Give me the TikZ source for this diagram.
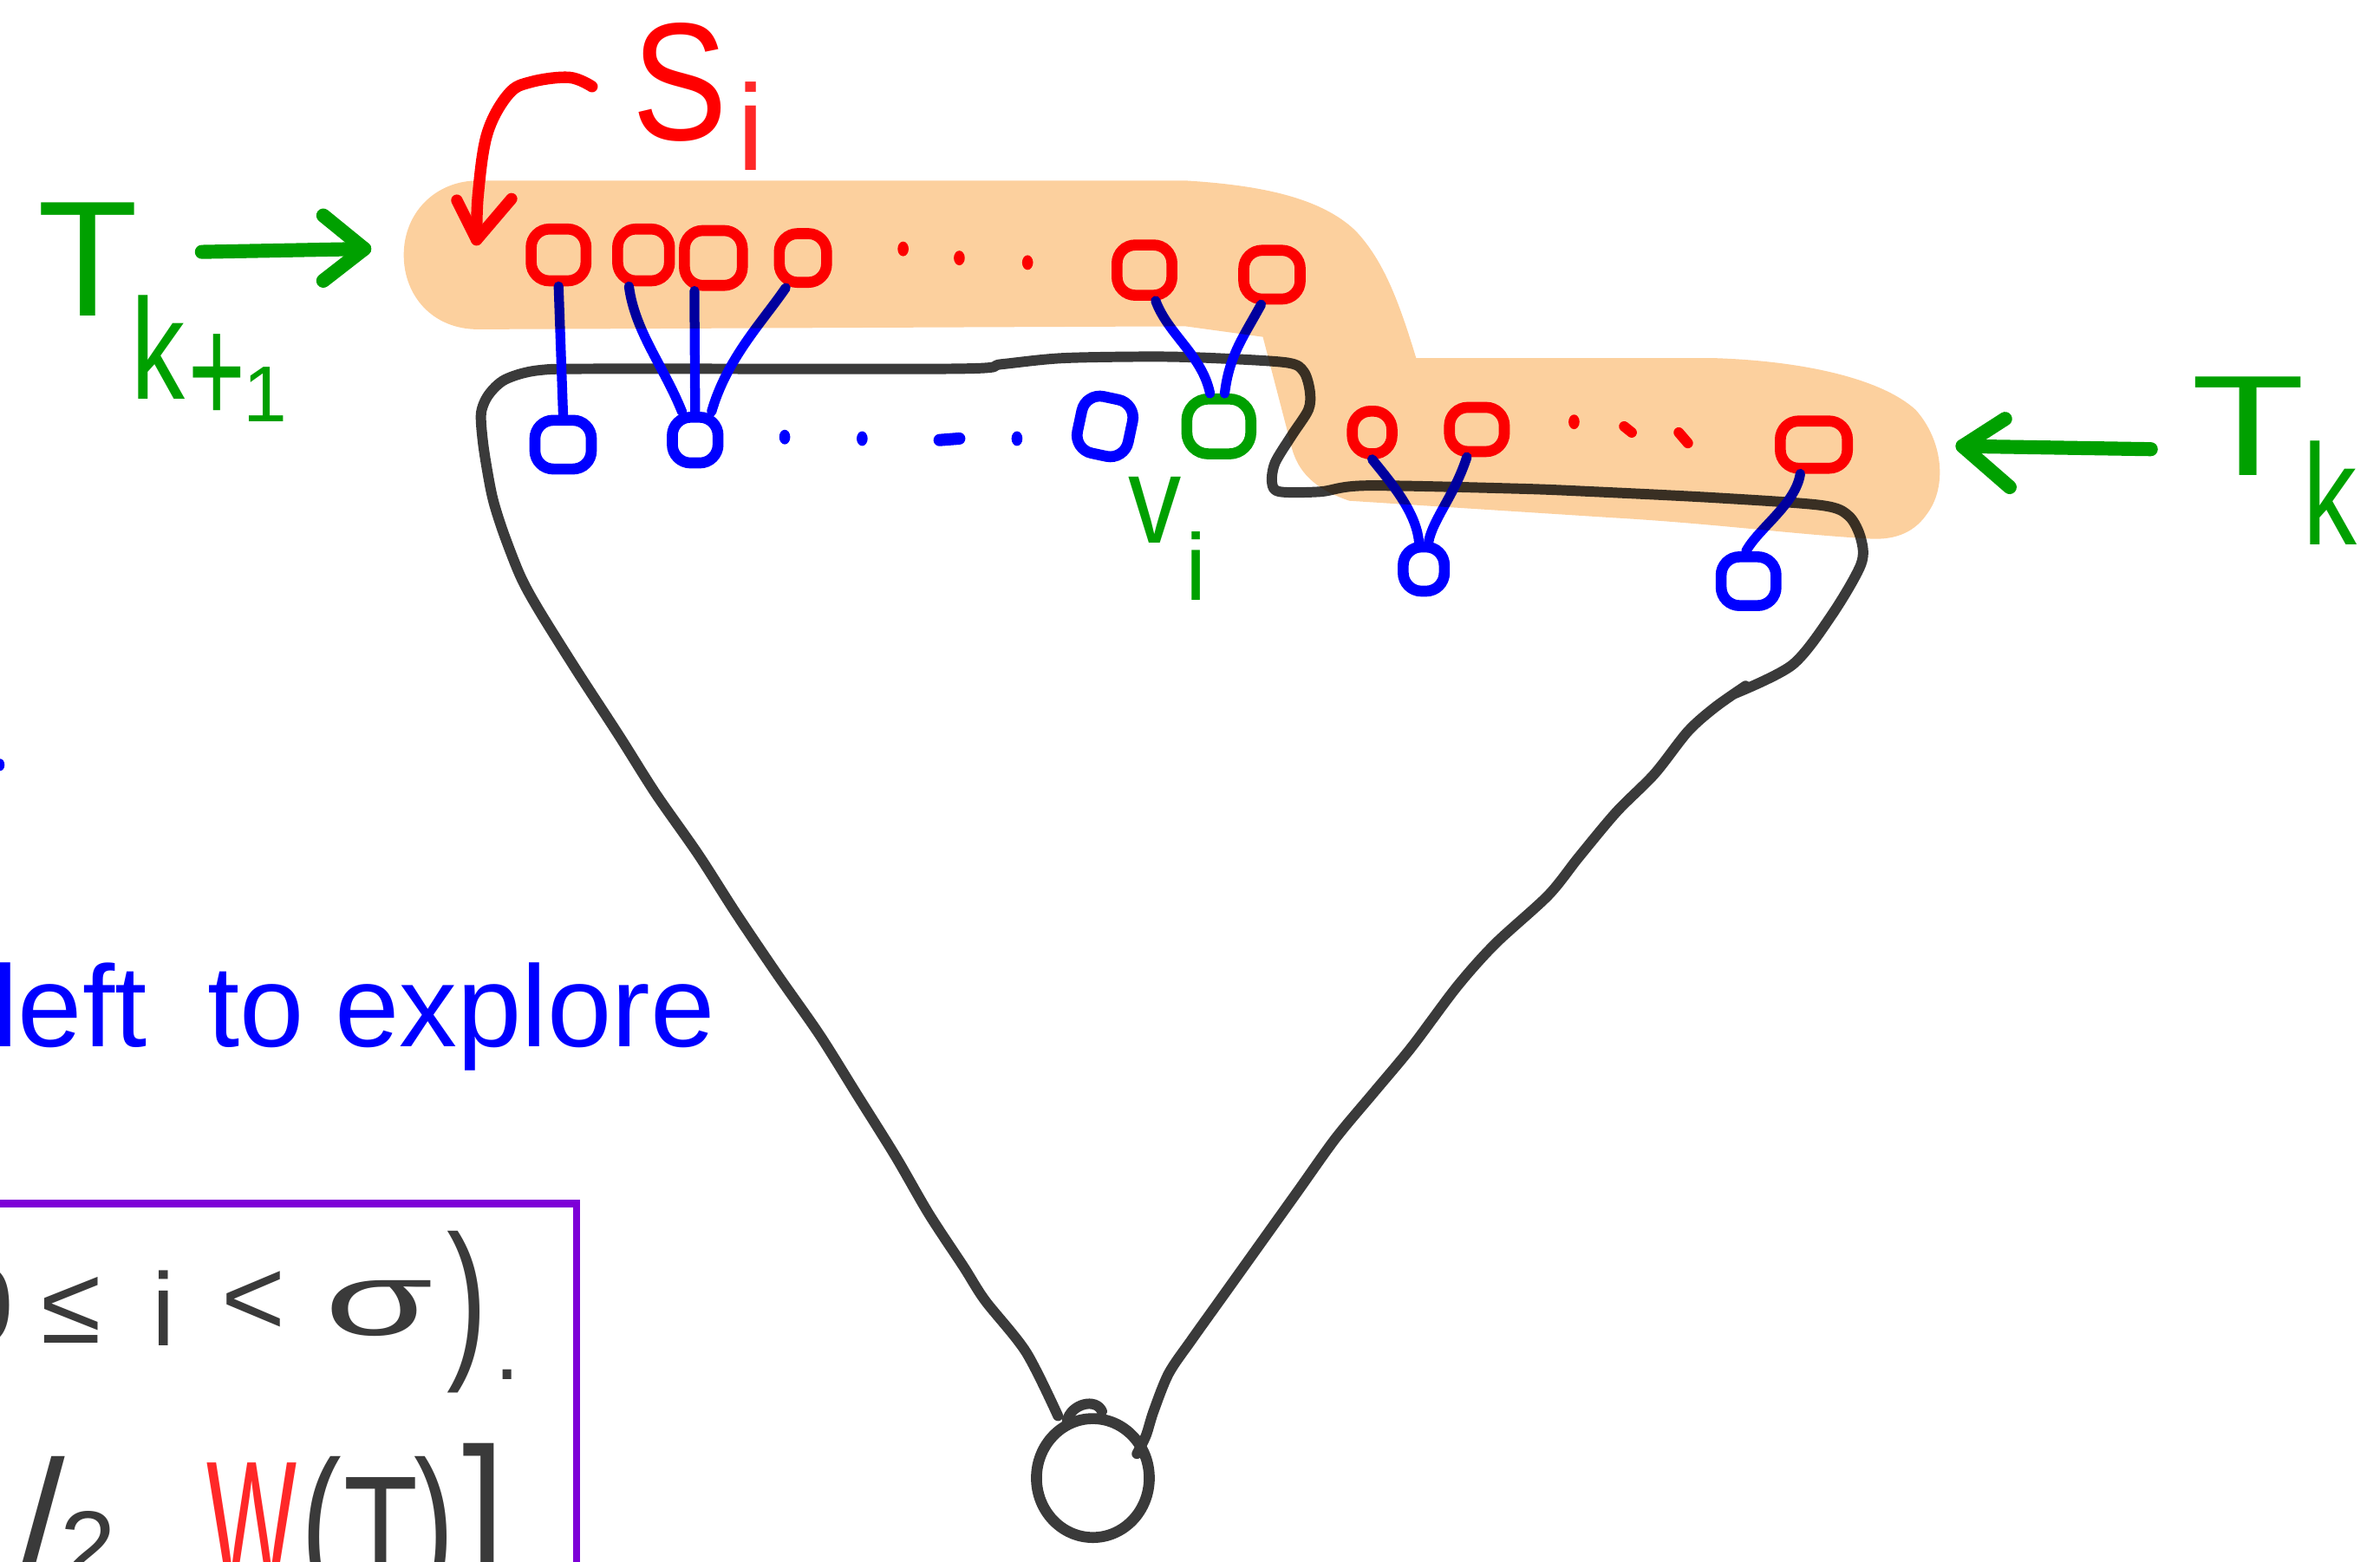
\documentclass[tikz,border=0pt]{standalone}
\usepackage{fontspec}
\setmainfont{Liberation Sans}
\newfontfamily\djv{DejaVu Sans}
\usetikzlibrary{shapes.geometric}
\definecolor{hl}{RGB}{252,208,158}
\definecolor{gr}{RGB}{0,160,0}
\definecolor{rd}{RGB}{255,0,0}
\definecolor{rdl}{RGB}{255,40,40}
\definecolor{bl}{RGB}{0,0,255}
\definecolor{dk}{RGB}{58,58,58}
\definecolor{pu}{RGB}{125,0,215}
\newcommand\myfs[1]{\fontsize{#1}{#1}\selectfont}
\tikzset{
  rnode/.style={draw=rd, line width=3.6pt, rounded corners=6pt, inner sep=0pt},
  bnode/.style={draw=bl, line width=3.6pt, rounded corners=6pt, inner sep=0pt},
  gnode/.style={draw=gr, line width=3.6pt, rounded corners=7pt, inner sep=0pt},
  bedge/.style={draw=bl, line width=3.2pt, line cap=round},
  outline/.style={draw=dk, line width=3.4pt, line cap=round, line join=round},
  garrow/.style={draw=gr, line width=4.6pt, line cap=round, line join=round},
  rarrow/.style={draw=rd, line width=3.8pt, line cap=round, line join=round},
  lbl/.style={inner sep=0pt, outer sep=0pt},
  boxtxt/.style={lbl, text=dk, anchor=base},
}
\begin{document}
\begin{tikzpicture}[x=0.017506cm, y=-0.017506cm]
\useasboundingbox (0,0) rectangle (1568,1029);
\clip (0,0) rectangle (1568,1029);

% ---------- tree outline ----------
\node[draw=dk, line width=3.6pt, ellipse, minimum width=37pt, minimum height=39pt, inner sep=0pt] (root) at (720,974) {};
\draw[outline] plot[smooth, tension=0.5] coordinates {
 (697,933) (676,891) (649,857) (635,835) (612,800) (590,762) (565,722) (540,682)
 (512,642) (485,602) (460,563) (432,523) (408,485) (380,442) (355,402) (343,380)
 (332,352) (325,330) (321,310) (318,290) (317,272) (322,260) (333,250) (355,244)
 (400,243) (630,243) (660,240) (700,236) (760,235) (800,236) (848,239) (859,245)
 (863,258) (862,270) (851,287) (840,305) (838,318) (843,324) (870,324) (900,320)
 (1000,322) (1050,324) (1130,328) (1200,333) (1218,340) (1226,355) (1226,372)
 (1207,405) (1181,438) (1143,457)};
\draw[outline] plot[smooth, tension=0.5] coordinates {
 (1150,452) (1130,466) (1112,482) (1090,510) (1065,535) (1040,565) (1020,590)
 (985,622) (960,650) (930,690) (905,720) (880,750) (855,785) (830,820) (805,855)
 (785,883) (770,905) (760,930) (755,946) (749,958)};
\draw[outline] (703,936) .. controls (706,925) and (722,921) .. (726,930);

% ---------- red nodes (S_i) ----------
\node[rnode, minimum width=18pt, minimum height=17pt] (r1) at (368,168) {};
\node[rnode, minimum width=17pt, minimum height=17pt] (r2) at (424,168) {};
\node[rnode, minimum width=19pt, minimum height=18pt] (r3) at (470,170) {};
\node[rnode, minimum width=15.5pt, minimum height=16pt] (r4) at (529,170) {};
\node[rnode, minimum width=18pt, minimum height=16.5pt] (r5) at (754,178) {};
\node[rnode, minimum width=18.5pt, minimum height=16pt] (r6) at (838,181) {};
\node[rnode, minimum width=13pt, minimum height=14pt] (r7) at (904,285) {};
\node[rnode, minimum width=18pt, minimum height=14.5pt] (r8) at (973,283) {};
\node[rnode, minimum width=22pt, minimum height=15.5pt] (r9) at (1195,293) {};
\fill[rd] (595,164) ellipse [x radius=1.8pt, y radius=2.4pt];
\fill[rd] (632,170) ellipse [x radius=1.8pt, y radius=2.4pt];
\fill[rd] (677,173) ellipse [x radius=1.8pt, y radius=2.4pt];
\fill[rd] (1037,278) ellipse [x radius=1.8pt, y radius=2.4pt];
\draw[rd, line width=3.4pt, line cap=round] (1070,281) -- (1075,285);
\draw[rd, line width=3.4pt, line cap=round] (1106,285) -- (1112,292);

% ---------- blue / green nodes ----------
\node[bnode, minimum width=18.5pt, minimum height=16pt] (b1) at (371,293) {};
\node[bnode, minimum width=15pt, minimum height=15pt] (b2) at (458,290) {};
\node[bnode, minimum width=17pt, minimum height=19pt, rotate=-12] (b3) at (728,281) {};
\node[gnode, minimum width=21pt, minimum height=18pt] (g) at (803,281) {};
\node[bnode, minimum width=13.5pt, minimum height=14.5pt] (b4) at (938,375) {};
\node[bnode, minimum width=18pt, minimum height=16pt] (b5) at (1152,383) {};
\fill[bl] (517,288) ellipse [x radius=1.8pt, y radius=2.4pt];
\fill[bl] (568,289) ellipse [x radius=1.8pt, y radius=2.4pt];
\draw[bl, line width=4pt, line cap=round] (619,290) -- (632,289);
\fill[bl] (670,289) ellipse [x radius=1.8pt, y radius=2.4pt];

% ---------- blue edges ----------
\draw[bedge] (r1.south) -- (b1.north);
\draw[bedge] (r2.-115) .. controls +(4,30) and +(-12,-30) .. (b2.115);
\draw[bedge] (r3.-120) -- (b2.north);
\draw[bedge] (r4.-120) .. controls +(-15,22) and +(10,-35) .. (b2.60);
\draw[bedge] (r5.-70) .. controls +(8,22) and +(-5,-25) .. (g.105);
\draw[bedge] (r6.-110) .. controls +(-12,22) and +(3,-25) .. (g.80);
\draw[bedge] (r7.-90) .. controls +(12,15) and +(-2,-20) .. (b4.100);
\draw[bedge] (r8.-110) .. controls +(-8,25) and +(3,-15) .. (b4.80);
\draw[bedge] (r9.-115) .. controls +(-3,20) and +(8,-15) .. (b5.95);

% ---------- labels ----------
\node[lbl, text=rd, font=\myfs{55pt}] (S) at (448,54) {\scalebox{0.85}[1]{S}};
\node[lbl, text=rdl, font=\myfs{40pt}] (Si) at (495,83) {i};
\coordinate (sa1) at (390,57);
\coordinate (sa2) at (314,158);
\draw[rarrow] plot[smooth, tension=0.6] coordinates {(sa1) (375,51) (350,54) (335,62) (321,88) (315,128) (sa2)};
\draw[rarrow] ([shift={(-13,-26)}]sa2) -- (sa2) -- ([shift={(23,-27)}]sa2);

\node[lbl, text=gr, font=\myfs{54pt}] (T1) at (58,171) {T};
\node[lbl, text=gr, font=\myfs{47pt}] (k1) at (104,229) {\scalebox{0.75}[1]{k}};
\node[lbl, text=gr, font=\myfs{32pt}] (p1) at (143,250) {\scalebox{1}[1.6]{+}};
\node[lbl, text=gr, font=\myfs{26pt}] (o1) at (175,260) {1};
\coordinate (ga1) at (133,166);
\coordinate (ga2) at (240,164);
\draw[garrow] (ga1) -- (ga2);
\draw[garrow] ([shift={(-27,-22)}]ga2) -- (ga2) -- ([shift={(-27,21)}]ga2);

\node[lbl, text=gr, font=\myfs{47pt}] (T2) at (1481,281) {\scalebox{1.3}[1]{T}};
\node[lbl, text=gr, font=\myfs{47pt}] (k2) at (1535,325) {\scalebox{0.75}[1]{k}};
\coordinate (ka1) at (1417,296);
\coordinate (ka2) at (1293,294);
\draw[garrow] (ka1) -- (ka2);
\draw[garrow] ([shift={(28,-18)}]ka2) -- (ka2) -- ([shift={(31,27)}]ka2);

\node[lbl, text=gr, font=\myfs{41pt}] (vv) at (761,336) {\scalebox{0.85}[1]{v}};
\node[lbl, text=gr, font=\myfs{31pt}] (vi) at (788,373) {i};

% ---------- left text ----------
\fill[bl] (0,504) ellipse [x radius=1.5pt, y radius=2pt];
\node[lbl, text=bl, font=\myfs{38pt}, anchor=base west] (lte) at (-5,690) {left\hspace{20pt}to\hspace{10pt}explore};

% ---------- purple box ----------
\coordinate (pb1) at (-5,793);
\coordinate (pb2) at (380,793);
\coordinate (pb3) at (380,1040);
\draw[pu, line width=2.4pt] (pb1) -- (pb2) -- (pb3);

\node[boxtxt, font=\myfs{36pt}] (z0) at (-11,885) {0};
\node[boxtxt, font=\myfs{36pt}] (zle) at (47,885) {≤};
\node[boxtxt, font=\myfs{34pt}] (zi) at (108,887) {i};
\node[boxtxt, font=\myfs{36pt}] (zlt) at (167,880) {<};
\node[boxtxt, font=\myfs{34pt}] (zs) at (250,880) {\scalebox{1.7}[1]{σ}};
\node[boxtxt, font=\myfs{57pt}] (zp) at (308,894) {\scalebox{0.7}[1]{)}};
\node[boxtxt, font=\myfs{30pt}] (zd) at (334,909) {.};

\node[boxtxt, font=\myfs{57pt}] (y0) at (-10,1043) {\scalebox{0.7}[1]{)}};
\node[boxtxt, font=\myfs{57pt}] (ysl) at (27,1043) {/};
\node[boxtxt, font=\myfs{33pt}] (y2) at (58,1042) {2};
\node[boxtxt, text=rdl, font=\myfs{57pt}] (yW) at (166,1043) {\scalebox{0.55}[1]{W}};
\node[boxtxt, font=\myfs{57pt}] (ylp) at (212,1043) {\scalebox{0.7}[1]{(}};
\node[boxtxt, font=\myfs{50pt}] (yT) at (251,1043) {\scalebox{0.8}[1]{T}};
\node[boxtxt, font=\myfs{57pt}] (yrp) at (286,1043) {\scalebox{0.7}[1]{)}};
\node[boxtxt, font=\djv\myfs{60pt}] (yce) at (315,1043) {\scalebox{0.8}[1]{⌉}};

% ---------- highlighter band ----------
\begin{scope}[blend mode=multiply]
\fill[hl] (315,119) -- (781,119) .. controls (830,122) and (870,130) .. (893,152)
 .. controls (912,172) and (922,200) .. (933,236) -- (1130,236)
 .. controls (1190,238) and (1240,250) .. (1262,270)
 .. controls (1280,290) and (1283,320) .. (1270,338)
 .. controls (1262,350) and (1250,356) .. (1232,355)
 .. controls (1180,352) and (1130,345) .. (1060,341) -- (889,330)
 .. controls (865,322) and (855,310) .. (851,295) -- (832,222) -- (781,215) -- (315,217)
 .. controls (285,217) and (266,195) .. (266,168)
 .. controls (266,140) and (287,119) .. (315,119) -- cycle;
\end{scope}
\end{tikzpicture}
\end{document}
